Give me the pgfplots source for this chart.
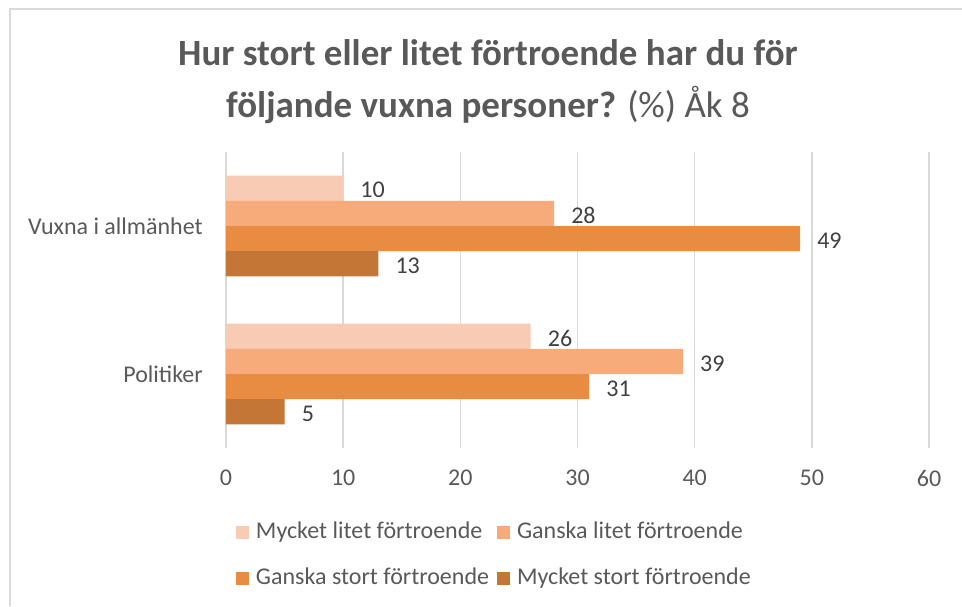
\documentclass[border=0pt]{standalone}
\usepackage{fontspec}
\setmainfont{Carlito}
\usepackage{xcolor}
\usepackage{pgfplots}
\pgfplotsset{compat=1.18}

\definecolor{c1}{RGB}{248,203,180}
\definecolor{c2}{RGB}{247,171,123}
\definecolor{c3}{RGB}{232,140,66}
\definecolor{c4}{RGB}{196,118,54}
\definecolor{gridc}{RGB}{217,217,217}
\definecolor{txt}{RGB}{89,89,89}
\definecolor{lbl}{RGB}{64,64,64}

\begin{document}
\begin{tikzpicture}
% 1 px of the reference = 1 pt
\path[use as bounding box] (0pt,0pt) rectangle (962pt,-606pt);
\draw[gridc, line width=2pt] (10pt,-606pt) -- (10pt,-9pt) -- (962pt,-9pt);

\node[anchor=base, text=txt, font=\fontsize{37}{44}\selectfont\bfseries]
  at (488pt,-65pt) {Hur stort eller litet förtroende har du för};
\node[anchor=base, text=txt, font=\fontsize{37}{44}\selectfont]
  at (488pt,-117pt) {\textbf{följande vuxna personer?} (\%) Åk 8};

\begin{axis}[
    at={(226pt,-448pt)}, anchor=south west,
    scale only axis,
    width=703pt, height=296pt,
    xbar,
    bar width=0.17,
    xmin=0, xmax=60,
    ymin=-0.5, ymax=1.5,
    xtick={0,10,20,30,40,50,60},
    ytick={0,1},
    yticklabels={Politiker, Vuxna i allmänhet},
    axis line style={draw=none},
    major tick length=0pt,
    xmajorgrids,
    grid style={gridc, line width=1.4pt},
    /pgf/number format/assume math mode=true,
    tick label style={font=\fontsize{24}{29}\selectfont, text=txt, inner sep=0pt},
    xticklabel style={anchor=north, yshift=-22pt},
    yticklabel style={anchor=east, xshift=-23pt},
    nodes near coords,
    every node near coord/.append style={font=\fontsize{24}{29}\selectfont, text=lbl, anchor=west, inner sep=0pt, xshift=17pt, yshift=-2pt},
    legend columns=2,
    legend cell align=left,
    legend style={
        at={(0.0142,-0.247)}, anchor=north west,
        draw=none, fill=none, inner sep=0pt, outer sep=0pt,
        font=\fontsize{24}{29}\selectfont, text=txt,
        nodes={inner sep=0pt, text height=17pt, text depth=5pt},
        row sep=24pt,
        /tikz/every odd column/.append style={column sep=7pt},
        /tikz/every even column/.append style={column sep=8pt},
    },
    legend image code/.code={\fill[#1] (0pt,-6.5pt) rectangle (13pt,6.5pt);},
]
\addplot[fill=c1, draw=none, bar shift=0.255] coordinates {(26,0) (10,1)};
\addplot[fill=c2, draw=none, bar shift=0.085] coordinates {(39,0) (28,1)};
\addplot[fill=c3, draw=none, bar shift=-0.085] coordinates {(31,0) (49,1)};
\addplot[fill=c4, draw=none, bar shift=-0.255] coordinates {(5,0) (13,1)};
\legend{Mycket litet förtroende, Ganska litet förtroende, Ganska stort förtroende, Mycket stort förtroende}
\end{axis}
\end{tikzpicture}
\end{document}
